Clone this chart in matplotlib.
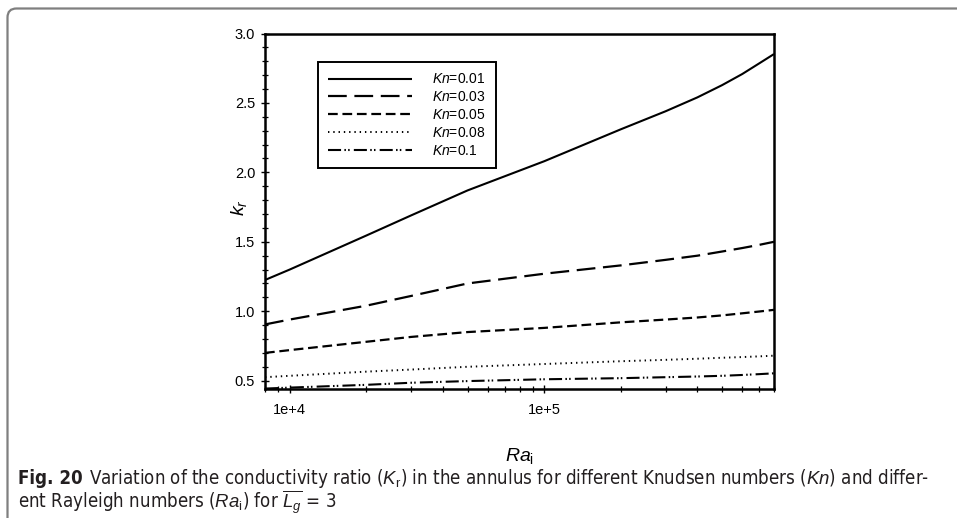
import numpy as np
import matplotlib
matplotlib.use("Agg")
import matplotlib.pyplot as plt
from matplotlib import font_manager as fm
from matplotlib.patches import FancyBboxPatch
from matplotlib.transforms import IdentityTransform
from matplotlib.ticker import FixedLocator, FuncFormatter, MultipleLocator, NullFormatter

# ---- data -----------------------------------------------------------------
ra = [8e3, 1e4, 2e4, 3e4, 5e4, 1e5, 2e5, 3e5, 4e5, 5e5, 6e5, 7e5, 8e5]
kr_kn001 = [1.225, 1.30, 1.545, 1.69, 1.87, 2.08, 2.31, 2.44, 2.54, 2.628, 2.708, 2.785, 2.852]
kr_kn003 = [0.905, 0.94, 1.04, 1.11, 1.20, 1.27, 1.33, 1.37, 1.40, 1.43, 1.455, 1.478, 1.50]
kr_kn005 = [0.70, 0.72, 0.78, 0.815, 0.85, 0.88, 0.92, 0.94, 0.955, 0.97, 0.985, 0.998, 1.01]
kr_kn008 = [0.525, 0.535, 0.565, 0.58, 0.60, 0.62, 0.64, 0.65, 0.658, 0.665, 0.67, 0.675, 0.68]
kr_kn010 = [0.443, 0.45, 0.47, 0.485, 0.497, 0.51, 0.518, 0.525, 0.53, 0.535, 0.541, 0.547, 0.553]

series_labels = ["$Kn$=0.01", "$Kn$=0.03", "$Kn$=0.05", "$Kn$=0.08", "$Kn$=0.1"]
x_tick_values = [1e4, 1e5]
y_tick_values = [0.5, 1.0, 1.5, 2.0, 2.5, 3.0]

caption_bold = "Fig. 20"
caption_line1 = ("Variation of the conductivity ratio ($K_\\mathrm{r}$) in the annulus for "
                 "different Knudsen numbers ($Kn$) and differ-")
caption_line2 = "ent Rayleigh numbers ($Ra_\\mathrm{i}$) for $\\overline{L_g}$ = 3"


def narrow_font(bold=False):
    """Pick a condensed sans face for the caption, if one is installed."""
    best = None
    for f in fm.fontManager.ttflist:
        name = f.name.lower()
        path = f.fname.lower()
        is_narrow = ("narrow" in name or "condensed" in name or "narrow" in path
                     or "condensed" in path or f.stretch in ("condensed", "semi-condensed"))
        if not is_narrow or "mono" in name or "serif" in name.replace("sans", ""):
            continue
        w = f.weight if isinstance(f.weight, int) else (700 if "bold" in str(f.weight) else 400)
        if (w >= 600) != bold or f.style != "normal":
            continue
        rank = 0 if "liberation" in name else 1 if "dejavu" in name else 2
        if best is None or rank < best[0]:
            best = (rank, f.fname)
    if best is None:
        return fm.FontProperties(family="Liberation Sans",
                                 weight="bold" if bold else "normal")
    return fm.FontProperties(fname=best[1])


sans = "Liberation Sans"
plt.rcParams.update({
    "font.family": [sans, "DejaVu Sans"],
    "mathtext.fontset": "custom",
    "mathtext.rm": sans,
    "mathtext.it": sans + ":italic",
    "mathtext.bf": sans + ":bold",
    "lines.scale_dashes": False,
})

W, H = 957, 518
fig = plt.figure(figsize=(W / 100, H / 100), dpi=100)

# rounded frame around the figure panel
frame = FancyBboxPatch((7.5, -20), W + 40, H - 8.5 + 20,
                       boxstyle="round,pad=0,rounding_size=9",
                       transform=IdentityTransform(), facecolor="none",
                       edgecolor="#7f7f7f", linewidth=1.6)
fig.add_artist(frame)

ax = fig.add_axes([265 / W, 1 - 389 / H, (774 - 265) / W, (389 - 33.5) / H])

styles = [
    dict(linestyle="-", linewidth=1.5),
    dict(linestyle=(0, (13.5, 5.5)), linewidth=1.6),
    dict(linestyle=(0, (7.0, 3.4)), linewidth=1.6),
    dict(linestyle=(0, (1.0, 2.8)), linewidth=1.4),
    dict(linestyle=(0, (9.4, 2.4, 1.1, 1.6, 1.1, 3.0)), linewidth=1.5),
]
for vals, lab, st in zip([kr_kn001, kr_kn003, kr_kn005, kr_kn008, kr_kn010],
                         series_labels, styles):
    ax.plot(ra, vals, color="black", label=lab, dash_capstyle="butt",
            solid_capstyle="butt", **st)

ax.set_xscale("log")
ax.set_xlim(8e3, 8e5)
ax.set_ylim(0.44, 3.0)

ax.xaxis.set_major_locator(FixedLocator(x_tick_values))
ax.xaxis.set_major_formatter(FuncFormatter(lambda v, p: "1e+%d" % round(np.log10(v))))
ax.xaxis.set_minor_locator(FixedLocator([m * 10 ** e for e in (3, 4, 5) for m in range(2, 10)]))
ax.xaxis.set_minor_formatter(NullFormatter())
ax.yaxis.set_major_locator(FixedLocator(y_tick_values))
ax.yaxis.set_major_formatter(FuncFormatter(lambda v, p: "%.1f" % v))
ax.yaxis.set_minor_locator(MultipleLocator(0.1))

ax.tick_params(which="major", direction="inout", length=6.2, width=1.0,
               labelsize=10.5, color="black")
ax.tick_params(which="minor", direction="inout", length=4.0, width=0.9)
ax.tick_params(axis="y", which="major", pad=4)
ax.tick_params(axis="x", which="major", pad=7)
for s in ax.spines.values():
    s.set_linewidth(1.8)

ax.set_xlabel("$Ra_\\mathrm{i}$", fontsize=14)
ax.set_ylabel("$k_r$", fontsize=14)
ax.xaxis.set_label_coords(0.5, -0.16)
ax.yaxis.set_label_coords(-0.031, 0.51)

leg = ax.legend(loc="upper left", bbox_to_anchor=((318 - 265) / 509, (389 - 62) / 355.5),
                borderaxespad=0, fontsize=10, handlelength=6.0, handletextpad=1.45,
                labelspacing=0.28, borderpad=0.75, fancybox=False, framealpha=1,
                edgecolor="black")
leg.get_frame().set_linewidth(1.4)

# caption
cap_regular = narrow_font(False)
cap_bold = narrow_font(True)
cap_color = "#231f20"
fs0 = 11.5
base1, base2 = 484, 507
tb = fig.text(18 / W, 1 - base1 / H, caption_bold, fontproperties=cap_bold,
              va="baseline", color=cap_color)
t1 = fig.text(0, 1 - base1 / H, caption_line1, fontproperties=cap_regular,
              va="baseline", color=cap_color)
t2 = fig.text(18 / W, 1 - base2 / H, caption_line2, fontproperties=cap_regular,
              va="baseline", color=cap_color)
for t in (tb, t1, t2):
    t.set_fontsize(fs0)
fig.canvas.draw()
r = fig.canvas.get_renderer()
bw = tb.get_window_extent(r).width
ew = t1.get_window_extent(r).width
# fit the first caption line between the left margin and the right edge
scale = (932 - 18 - 6) / (bw + ew)
for t in (tb, t1, t2):
    t.set_fontsize(fs0 * scale)
fig.canvas.draw()
bx = tb.get_window_extent(r)
t1.set_x((bx.x1 + 6) / W)

fig.savefig("out.png", dpi=100)
